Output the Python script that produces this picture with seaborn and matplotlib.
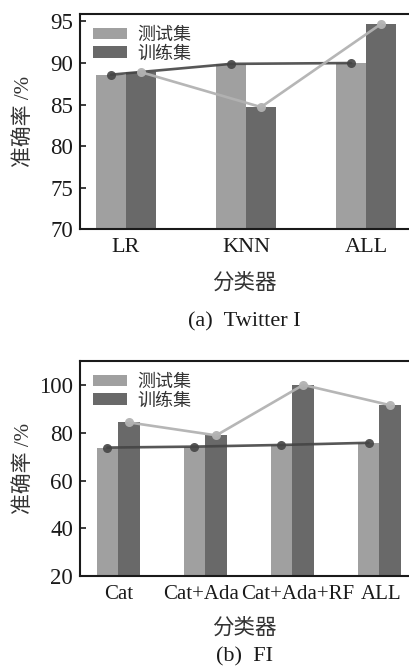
import numpy as np
import pandas as pd
import matplotlib
matplotlib.use("Agg")
import matplotlib.pyplot as plt
import matplotlib.transforms as mtrans
import seaborn as sns

# data
series_names = ["测试集", "训练集"]

twitter_models = ["LR", "KNN", "ALL"]
twitter_test = [88.6, 89.9, 90.0]
twitter_train = [88.9, 84.7, 94.7]

fi_models = ["Cat", "Cat+Ada", "Cat+Ada+RF", "ALL"]
fi_test = [73.8, 74.2, 74.9, 75.8]
fi_train = [84.3, 78.9, 100.0, 91.5]

LIGHT = "#a0a0a0"
DARK = "#696969"
FONTS = ["Liberation Serif", "Noto Sans CJK SC", "DejaVu Sans"]

sns.set_style("ticks")
plt.rcParams["font.family"] = FONTS
plt.rcParams["axes.unicode_minus"] = False


def draw_panel(ax, models, test, train, ylim, yticks, xlim, caption, cap_y,
               xlabelpad, xtick_size, label_shift=None):
    df = pd.DataFrame({
        "model": models * 2,
        "set": [series_names[0]] * len(models) + [series_names[1]] * len(models),
        "acc": test + train,
    })
    sns.barplot(data=df, x="model", y="acc", hue="set", order=models,
                hue_order=series_names, palette=[LIGHT, DARK], saturation=1,
                width=0.5, gap=0, errorbar=None, linewidth=0, ax=ax)

    idx = np.arange(len(models))
    sns.lineplot(x=idx - 0.125, y=test, ax=ax, color="#454545", lw=1.9,
                 marker="o", markersize=6.5, markeredgewidth=0, alpha=0.9,
                 legend=False, sort=False)
    sns.lineplot(x=idx + 0.125, y=train, ax=ax, color="#b2b2b2", lw=1.9,
                 marker="o", markersize=6.5, markeredgewidth=0, alpha=0.95,
                 legend=False, sort=False)

    ax.set_ylim(*ylim)
    ax.set_yticks(yticks)
    ax.set_xlim(*xlim)
    ax.tick_params(direction="in", length=4, width=1.2, colors="#1a1a1a", pad=5)
    ax.tick_params(axis="y", labelsize=16.5)
    ax.tick_params(axis="x", labelsize=xtick_size, pad=6)
    for s in ["left", "bottom", "top"]:
        ax.spines[s].set_linewidth(1.5)
        ax.spines[s].set_color("#1a1a1a")
    ax.spines["right"].set_visible(False)

    if label_shift:
        for lab, dx in zip(ax.get_xticklabels(), label_shift):
            lab.set_transform(lab.get_transform() +
                              mtrans.ScaledTranslation(dx / 100, 0, fig.dpi_scale_trans))

    ax.set_ylabel("准确率 /%", fontsize=15, color="#333333")
    ax.yaxis.set_label_coords(-0.14, 0.5)
    ax.set_xlabel("分类器", fontsize=15.5, color="#333333", labelpad=xlabelpad)

    leg = ax.legend(loc="upper left", frameon=False, fontsize=13,
                    handlelength=1.9, handleheight=0.6, labelspacing=0.1,
                    borderaxespad=0.3, handletextpad=0.6)
    for t in leg.get_texts():
        t.set_color("#333333")

    fig.text(0.598, cap_y, caption, ha="center", va="center",
             fontsize=16, color="#1a1a1a")


fig = plt.figure(figsize=(4.09, 6.66), dpi=100)
ax1 = fig.add_axes([0.1956, 0.6557, 0.8044, 0.3233])
ax2 = fig.add_axes([0.1956, 0.1347, 0.8044, 0.3233])

draw_panel(ax1, twitter_models, twitter_test, twitter_train,
           (70, 95.9), [70, 75, 80, 85, 90, 95], (-0.383, 2.358),
           "(a)  Twitter I", 1 - 322 / 666, 12, 16)
draw_panel(ax2, fi_models, fi_test, fi_train,
           (20, 110), [20, 40, 60, 80, 100], (-0.44, 3.34),
           "(b)  FI", 1 - 657 / 666, 11, 15, label_shift=[0, -4, 5, 2])

fig.savefig("out.png", dpi=100)
